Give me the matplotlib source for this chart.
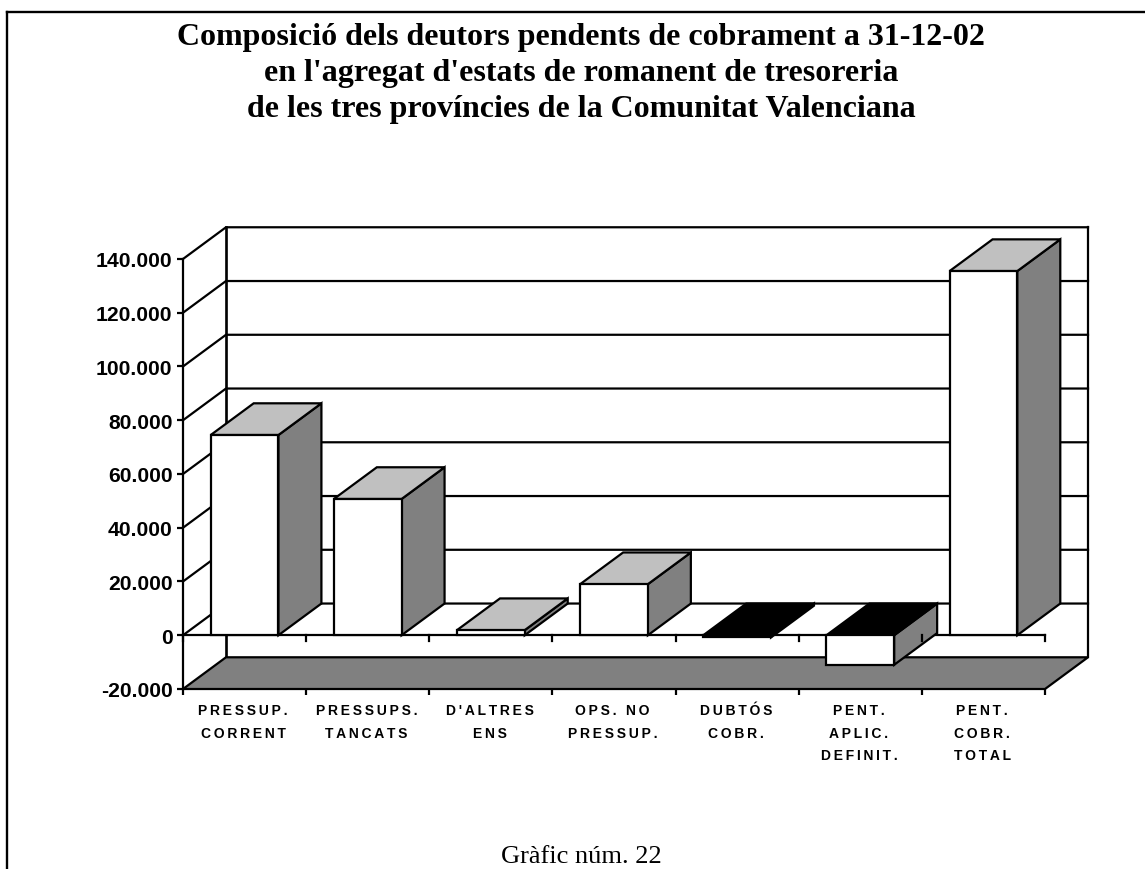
import matplotlib
matplotlib.use('Agg')
import matplotlib.pyplot as plt
from matplotlib.lines import Line2D
from matplotlib.patches import Polygon

categorias = ['PRESSUP.\nCORRENT', 'PRESSUPS.\nTANCATS', "D'ALTRES\nENS", 'OPS. NO\nPRESSUP.',
              'DUBTÓS\nCOBR.', 'PENT.\nAPLIC.\nDEFINIT.', 'PENT.\nCOBR.\nTOTAL']
valores = [74500, 50700, 1900, 19000, -800, -11000, 135500]
marcas_y = [-20000, 0, 20000, 40000, 60000, 80000, 100000, 120000, 140000]
etiquetas_y = ['-20.000', '0', '20.000', '40.000', '60.000', '80.000', '100.000', '120.000', '140.000']
titulo = ['Composició dels deutors pendents de cobrament a 31-12-02',
          "en l'agregat d'estats de romanent de tresoreria",
          'de les tres províncies de la Comunitat Valenciana']
peu = 'Gràfic núm. 22'

# profunditat del 3D en unitats de dades
dx = 0.349
dy = 11800
ample = 0.55
n = len(categorias)
gl = 1.6

W, H = 1145, 870
fig = plt.figure(figsize=(W / 100, H / 100), dpi=100, facecolor='white')
ax = fig.add_axes([183 / W, (H - 690) / H, 905 / W, 462 / H])
ax.set_xlim(0, n + dx)
ax.set_ylim(-20000, 140000 + 11900)
ax.patch.set_visible(False)
for s in ax.spines.values():
    s.set_visible(False)

# parets del fons
for v in marcas_y[1:]:
    ax.plot([0, dx, n + dx], [v, v + dy, v + dy], color='black', lw=gl, zorder=1, clip_on=False, solid_joinstyle='miter')
ax.plot([dx, dx], [-20000 + dy, 140000 + dy], color='black', lw=gl * 1.2, zorder=1, clip_on=False)
ax.plot([n + dx, n + dx], [-20000 + dy, 140000 + dy], color='black', lw=gl, zorder=1, clip_on=False)
ax.plot([0, 0], [-20000, 140000], color='black', lw=gl, zorder=1, clip_on=False)

# terra
ax.add_patch(Polygon([(0, -20000), (n, -20000), (n + dx, -20000 + dy), (dx, -20000 + dy)],
                     facecolor='#808080', edgecolor='black', lw=gl, zorder=2, clip_on=False))

# linia del zero
ax.plot([0, n], [0, 0], color='black', lw=gl, zorder=3, clip_on=False)

# barres
for i, v in enumerate(valores):
    x0 = i + 0.5 - ample / 2
    x1 = x0 + ample
    sostre = max(v, 0)
    base = min(v, 0)
    color_sostre = '#c0c0c0' if v > 0 else 'black'
    z = 4 + i
    ax.add_patch(Polygon([(x1, sostre), (x1 + dx, sostre + dy), (x1 + dx, base + dy), (x1, base)],
                         facecolor='#808080', edgecolor='black', lw=gl, zorder=z, clip_on=False, joinstyle='miter'))
    ax.add_patch(Polygon([(x0, sostre), (x1, sostre), (x1 + dx, sostre + dy), (x0 + dx, sostre + dy)],
                         facecolor=color_sostre, edgecolor='black', lw=gl, zorder=z, clip_on=False, joinstyle='miter'))
    ax.add_patch(Polygon([(x0, sostre), (x1, sostre), (x1, base), (x0, base)],
                         facecolor='white' if v < -5000 or v > 0 else 'black', edgecolor='black', lw=gl, zorder=z,
                         clip_on=False, joinstyle='miter'))

# marques de l'eix x (al zero i a baix)
for i in range(n + 1):
    ax.plot([i, i], [0, -2300], color='black', lw=gl, zorder=15, clip_on=False)

ax.set_xticks(range(n + 1))
ax.set_xticklabels([])
ax.set_yticks(marcas_y)
ax.set_yticklabels(etiquetas_y, fontfamily='Liberation Sans', fontweight='bold', fontsize=15.2)
ax.tick_params(axis='x', length=4.5, width=gl, pad=2)
ax.tick_params(axis='y', length=4.5, width=gl, pad=3)

for i, c in enumerate(categorias):
    # espaiat entre lletres com a l'original
    text = '\n'.join('\u2009'.join(linia) for linia in c.split('\n'))
    ax.annotate(text, (i + 0.5, -20000), xytext=(-1, -10.2), textcoords='offset points', ha='center', va='top',
                fontfamily='Liberation Sans', fontweight='bold', fontsize=10, linespacing=1.76, annotation_clip=False)

# titol i peu
for y, linia in zip([37, 73, 110], titulo):
    fig.text(581 / W, 1 - y / H, linia, ha='center', va='center', fontfamily='Liberation Serif',
             fontweight='bold', fontsize=23)
fig.text(581 / W, 1 - 857 / H, peu, ha='center', va='center', fontfamily='Liberation Serif', fontsize=19)

# marc de la pagina
fig.add_artist(Line2D([7 / W, 7 / W], [0, 1 - 13 / H], color='black', lw=1.7))
fig.add_artist(Line2D([7 / W, 1], [1 - 13 / H, 1 - 13 / H], color='black', lw=1.7))

fig.savefig('out.png', dpi=100)
